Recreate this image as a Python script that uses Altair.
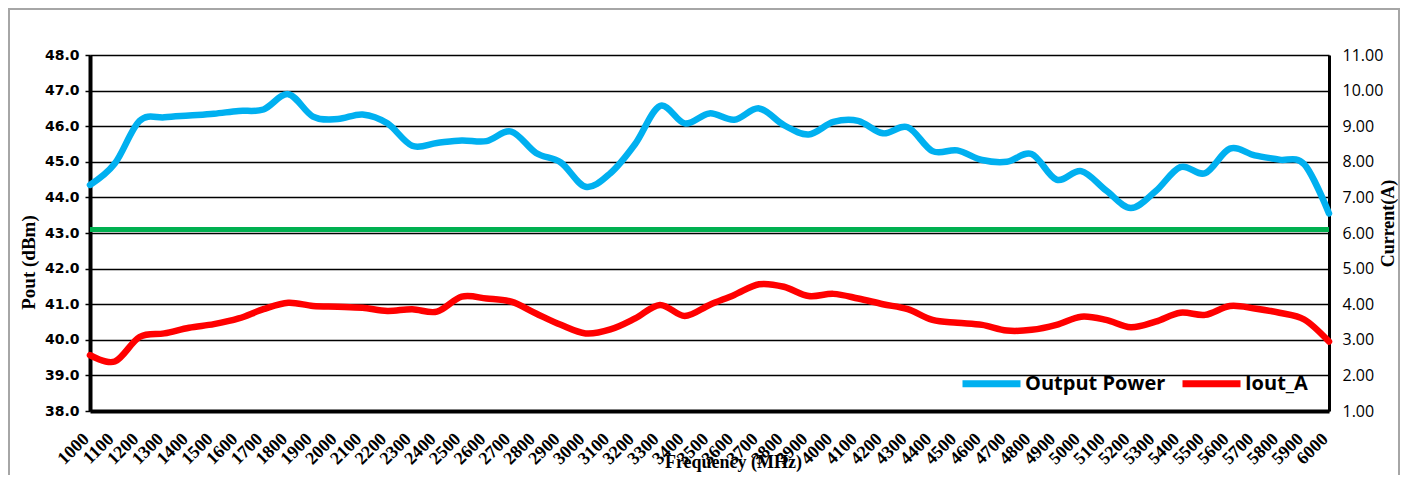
import altair as alt
import pandas as pd

freq = [1000, 1100, 1200, 1300, 1400, 1500, 1600, 1700, 1800, 1900,
        2000, 2100, 2200, 2300, 2400, 2500, 2600, 2700, 2800, 2900,
        3000, 3100, 3200, 3300, 3400, 3500, 3600, 3700, 3800, 3900,
        4000, 4100, 4200, 4300, 4400, 4500, 4600, 4700, 4800, 4900,
        5000, 5100, 5200, 5300, 5400, 5500, 5600, 5700, 5800, 5900,
        6000]

output_power = [44.35, 44.95, 46.15, 46.25, 46.30, 46.35, 46.43, 46.47, 46.90, 46.27,
                46.20, 46.33, 46.08, 45.45, 45.53, 45.60, 45.58, 45.85, 45.25, 44.98,
                44.30, 44.68, 45.50, 46.57, 46.08, 46.36, 46.18, 46.50, 46.03, 45.77,
                46.12, 46.15, 45.80, 45.97, 45.30, 45.32, 45.05, 45.00, 45.22, 44.50,
                44.74, 44.20, 43.70, 44.17, 44.85, 44.68, 45.37, 45.18, 45.06, 44.93,
                43.55]

iout_a = [2.57, 2.39, 3.08, 3.18, 3.34, 3.44, 3.60, 3.86, 4.04, 3.95,
          3.93, 3.90, 3.81, 3.86, 3.79, 4.21, 4.16, 4.07, 3.74, 3.42,
          3.18, 3.29, 3.60, 3.98, 3.67, 3.98, 4.26, 4.56, 4.49, 4.23,
          4.29, 4.16, 4.00, 3.86, 3.56, 3.48, 3.42, 3.26, 3.28, 3.42,
          3.65, 3.56, 3.35, 3.51, 3.76, 3.70, 3.95, 3.88, 3.76, 3.57,
          2.95]

green_level = [43.1]

series_names = ["Output Power", "Iout_A"]
series_colors = ["#00B0F0", "#FF0000"]

left_ticks = [38, 39, 40, 41, 42, 43, 44, 45, 46, 47, 48]
right_ticks = [1, 2, 3, 4, 5, 6, 7, 8, 9, 10, 11]

df_p = pd.DataFrame({"freq": freq, "value": output_power, "series": series_names[0]})
df_i = pd.DataFrame({"freq": freq, "value": iout_a, "series": series_names[1]})
df_g = pd.DataFrame({"level": green_level})

W, H = 1239, 356

x_enc = alt.X(
    "freq:Q",
    scale=alt.Scale(domain=[1000, 6000], nice=False, zero=False),
    axis=alt.Axis(
        values=freq, format="d", labelAngle=-45, labelAlign="right",
        labelBaseline="middle", labelFont="Liberation Serif", labelFontWeight="bold",
        labelFontSize=18, labelColor="black", labelPadding=25, labelOffset=-4,
        labelOverlap=False, labelFlush=False, labelBound=False, ticks=False, grid=False,
        domainColor="black", domainWidth=4,
        title="Frequency (MHz)", titleFont="Liberation Serif", titleFontWeight="bold",
        titleFontSize=18, titleColor="black", titleX=643, titleY=51,
        titleBaseline="middle", titleAlign="center",
    ),
)

left_scale = alt.Scale(domain=[38, 48], nice=False, zero=False)
left_axis = alt.Axis(
    values=left_ticks, format=".1f", labelFont="DejaVu Sans", labelFontWeight="bold",
    labelFontSize=14, labelColor="black", labelPadding=6, tickSize=5, tickWidth=1.5,
    tickColor="black", domainColor="black", domainWidth=4, grid=True,
    gridColor="black", gridWidth=1.5, gridOpacity=1,
    title="Pout (dBm)", titleFont="Liberation Serif", titleFontWeight="bold",
    titleFontSize=19, titleColor="black", titleAngle=270, titleX=-62, titleY=207,
    titleBaseline="middle", titleAlign="center",
)

right_scale = alt.Scale(domain=[1, 11], nice=False, zero=False)
right_axis = alt.Axis(
    orient="right", values=right_ticks, format=".2f", labelFont="Open Sans",
    labelFontSize=16, labelColor="black", labelPadding=13, ticks=False,
    domainColor="black", domainWidth=3, grid=False,
    title="Current(A)", titleFont="Liberation Serif", titleFontWeight="bold",
    titleFontSize=18, titleColor="black", titleAngle=270, titleX=59, titleY=168,
    titleBaseline="middle", titleAlign="center",
)

color_enc = alt.Color(
    "series:N",
    scale=alt.Scale(domain=series_names, range=series_colors),
    legend=alt.Legend(
        title=None, orient="none", legendX=869, legendY=296, direction="horizontal",
        symbolType="stroke", symbolSize=3364, symbolStrokeWidth=7,
        labelFont="Open Sans", labelFontWeight="bold", labelFontSize=20,
        labelColor="black", labelOffset=1, columnPadding=2,
    ),
)

green = alt.Chart(df_g).mark_rule(color="#00B050", strokeWidth=5).encode(
    y=alt.Y("level:Q", scale=left_scale, axis=left_axis)
)

blue = alt.Chart(df_p).mark_line(
    strokeWidth=6.5, interpolate="cardinal", tension=0, strokeCap="round"
).encode(
    x=x_enc,
    y=alt.Y("value:Q", scale=left_scale, axis=left_axis),
    color=color_enc,
)

red = alt.Chart(df_i).mark_line(
    strokeWidth=6.5, interpolate="cardinal", tension=0, strokeCap="round"
).encode(
    x=x_enc,
    y=alt.Y("value:Q", scale=right_scale, axis=right_axis),
    color=color_enc,
)

frame = alt.Chart(pd.DataFrame({"a": [0]})).mark_rect(
    filled=False, stroke="#A6A6A6", strokeWidth=2
).encode(
    x=alt.value(-81), x2=alt.value(1309), y=alt.value(-46), y2=alt.value(H + 100)
)

chart = alt.layer(
    alt.layer(green, blue), red, frame
).resolve_scale(y="independent").properties(
    width=W, height=H,
    autosize=alt.AutoSizeParams(type="none"),
    padding={"left": 82, "top": 47, "right": 72, "bottom": 64},
).configure_view(stroke="black", strokeWidth=3).configure(background="white")

chart.save("out.html", embed_options={"renderer": "svg", "actions": False})
